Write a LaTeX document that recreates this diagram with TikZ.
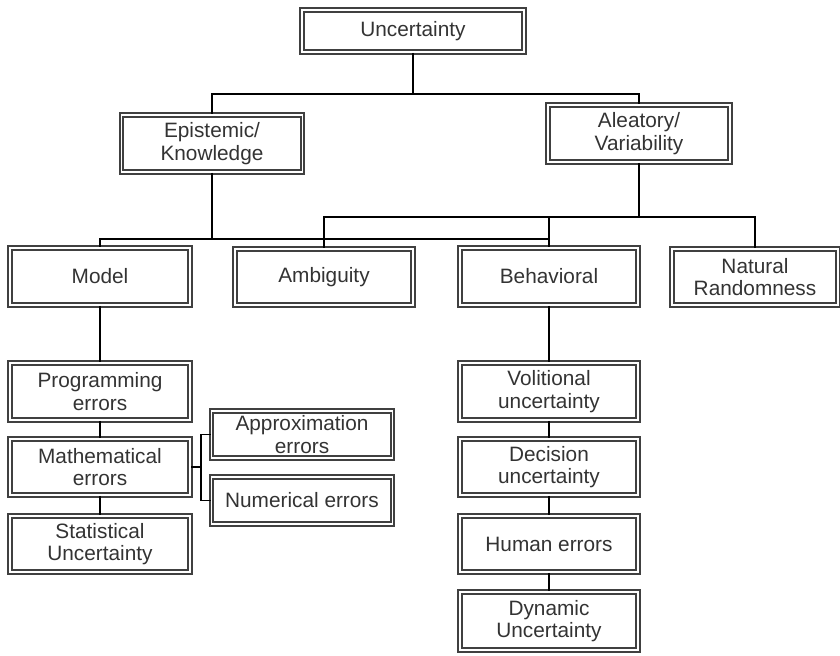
\documentclass[tikz,border=0pt]{standalone}
\usepackage{fontspec}
\setmainfont{Liberation Sans}
\tikzset{
  box/.style={draw=black!75, double, double distance=0.9pt, line width=1pt,
    align=center, inner sep=1pt, text=black!80,
    font=\fontsize{10.4}{11.2}\selectfont},
  link/.style={draw=black, line width=0.75pt}
}
\begin{document}
\begin{tikzpicture}[x=0.5pt,y=-0.5pt]
			\useasboundingbox (0,0) rectangle (840,656);
			% top levels
			\node[box, minimum width=111pt, minimum height=21pt] (unc) at (413,31) {Uncertainty};
			\node[box, minimum width=90.5pt, minimum height=28.5pt] (epi) at (212,143.5) {Epistemic/\\Knowledge};
			\node[box, minimum width=91pt, minimum height=28.5pt] (ale) at (639,133.5) {Aleatory/\\Variability};
			% second level
			\node[box, minimum width=90pt, minimum height=28.5pt] (model) at (100,276.5) {Model};
			\node[box, minimum width=89pt, minimum height=28pt] (amb) at (324,277) {Ambiguity};
			\node[box, minimum width=89pt, minimum height=28.5pt] (beh) at (549,276.5) {Behavioral};
			\node[box, minimum width=83pt, minimum height=28pt] (nat) at (755,277) {Natural\\Randomness};
			% model branch
			\node[box, minimum width=90pt, minimum height=28.5pt] (prog) at (100,391.5) {Programming\\errors};
			\node[box, minimum width=90pt, minimum height=28pt] (math) at (100,467) {Mathematical\\errors};
			\node[box, minimum width=90pt, minimum height=28pt] (stat) at (100,544) {Statistical\\Uncertainty};
			\node[box, minimum width=90.5pt, minimum height=23.5pt] (approx) at (302,434.5) {Approximation\\errors};
			\node[box, minimum width=90.5pt, minimum height=23.5pt] (num) at (302,500.5) {Numerical errors};
			% behavioral branch
			\node[box, minimum width=89pt, minimum height=28.5pt] (vol) at (549,391.5) {Volitional\\uncertainty};
			\node[box, minimum width=89pt, minimum height=28pt] (dec) at (549,467) {Decision\\uncertainty};
			\node[box, minimum width=89pt, minimum height=28pt] (hum) at (549,544) {Human errors};
			\node[box, minimum width=89pt, minimum height=29pt] (dyn) at (549,621) {Dynamic\\Uncertainty};
			% bus heights
			\coordinate (b1) at (0,94);
			\coordinate (b2) at (0,217);
			\coordinate (b3) at (0,239);
			\coordinate (fork) at (201,0);
			% connectors
			\draw[link] (unc.south) -- (unc.south |- b1);
			\draw[link] (epi.north) |- (b1 -| ale.north) -- (ale.north);
			\draw[link] (epi.south) -- (epi.south |- b3);
			\draw[link] (model.north) |- (b3 -| beh.north);
			\draw[link] (ale.south) -- (ale.south |- b2);
			\draw[link] (amb.north) |- (b2 -| nat.north) -- (nat.north);
			\draw[link] (beh.north) -- (beh.north |- b2);
			\draw[link] (model) -- (prog);
			\draw[link] (prog) -- (math);
			\draw[link] (math) -- (stat);
			\draw[link] (math.east) -- (fork |- math.east);
			\draw[link] (approx.west) -| (fork |- num.west) -- (num.west);
			\draw[link] (beh) -- (vol);
			\draw[link] (vol) -- (dec);
			\draw[link] (dec) -- (hum);
			\draw[link] (hum) -- (dyn);
		\end{tikzpicture}
\end{document}
